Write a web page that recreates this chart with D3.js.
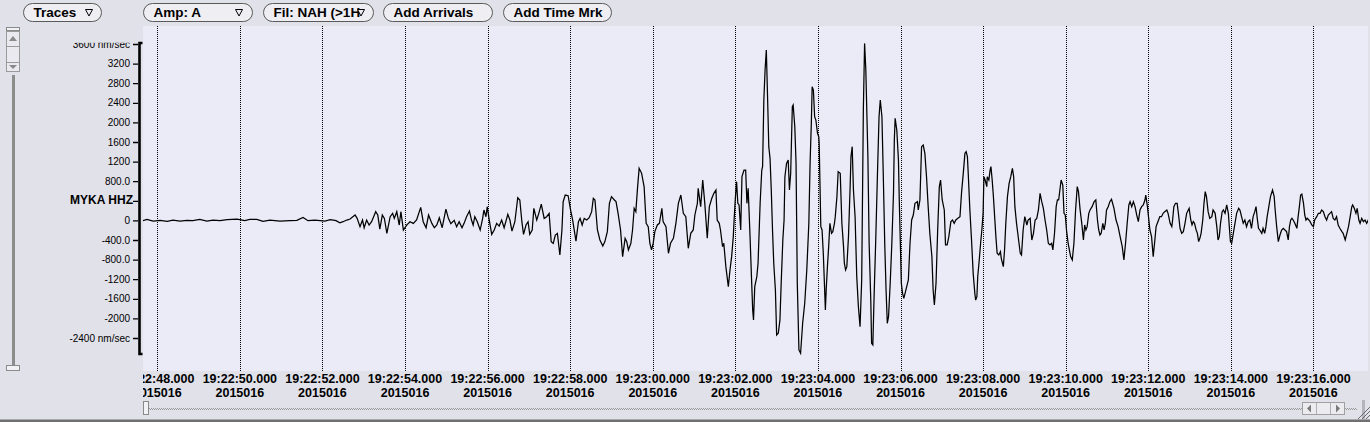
<!DOCTYPE html>
<html><head><meta charset="utf-8">
<script src="https://cdn.jsdelivr.net/npm/d3@7"></script>
<style>
html,body{margin:0;padding:0;background:#E1E1E9;overflow:hidden}
svg{display:block}
</style></head><body>
<svg id="c" width="1370" height="422"></svg>
<script>
// ---------------- DATA ----------------
const stationLabel = "MYKA HHZ";
const traceStartUTC = "2015-01-16T19:22:00Z";      // seconds below are counted from here
const viewWindowSec = [47.654, 77.322];            // visible time window
const gridSec = [48, 50, 52, 54, 56, 58, 60, 62, 64, 66, 68, 70, 72, 74, 76];
const ampDomain = [-2727, 3620];                   // nm/sec shown by the amplitude axis
const ampTicks = [3600, 3200, 2800, 2400, 2000, 1600, 1200, 800, 400, 0, -400, -800, -1200, -1600, -2000, -2400];
const ampTickLabels = ["3600 nm/sec", "3200", "2800", "2400", "2000", "1600", "1200", "800.0", "MYKA HHZ",
  "0", "-400.0", "-800.0", "-1200", "-1600", "-2000", "-2400 nm/sec"];
const toolbarLabels = ["Traces", "Amp: A", "Fil: NAH (>1H", "Add Arrivals", "Add Time Mrk"];
const toolbarHasMenu = [true, true, true, false, false];

// trace: time (s after 19:22:00) and amplitude (nm/sec)
const traceSec = [
47.65,47.75,47.90,48.07,48.24,48.38,48.55,48.72,48.86,49.03,49.20,49.35,49.52,49.69,49.81,49.93,50.12,50.24,50.41,50.56,50.73,50.97,51.21,51.38,51.53,51.65,51.82,52.06,52.19,52.33,
52.42,52.50,52.59,52.67,52.79,52.84,52.91,52.97,53.01,53.07,53.13,53.19,53.29,53.34,53.39,53.45,53.50,53.56,53.64,53.70,53.74,53.80,53.86,53.90,53.96,54.04,54.12,54.20,54.28,54.38,54.44,54.51,54.57,54.65,54.71,54.77,54.83,54.90,54.99,55.05,55.11,55.19,55.25,55.31,55.38,55.43,55.49,55.56,55.61,55.65,55.69,55.75,55.82,55.88,55.91,55.96,55.99,56.04,56.10,56.16,56.22,56.28,56.34,56.40,56.49,56.54,56.59,56.66,56.73,56.78,56.83,56.87,56.93,56.98,57.02,57.08,57.12,57.19,57.24,57.30,57.37,57.43,57.49,57.54,57.59,57.64,57.69,57.75,57.80,57.83,57.88,57.95,58.01,58.06,58.14,58.20,58.24,58.29,58.34,58.40,58.46,
58.52,58.56,58.60,58.66,58.72,58.79,58.84,58.90,58.95,59.00,59.07,59.11,59.16,59.22,59.27,59.33,59.37,59.41,59.47,59.51,59.55,59.59,59.63,59.67,59.73,59.79,59.84,59.89,59.93,59.97,60.01,60.05,60.11,60.16,60.22,60.25,60.32,60.38,60.43,60.50,60.56,60.62,60.68,60.74,60.80,60.86,60.92,60.98,61.02,61.08,61.10,61.16,61.21,
61.26,61.32,61.37,61.43,61.48,61.53,61.56,61.61,61.64,61.69,61.72,61.77,61.83,61.87,61.91,61.95,61.97,62.00,62.03,62.06,62.09,62.13,62.16,62.21,62.25,62.28,62.31,62.35,62.39,62.42,62.44,62.47,62.52,62.55,62.60,62.64,62.66,62.69,62.72,62.75,62.78,62.81,62.84,62.87,62.90,62.93,62.97,63.00,63.04,63.08,63.11,63.15,63.18,63.20,63.24,63.28,63.31,63.34,63.38,63.40,63.44,63.47,63.50,63.54,63.58,63.63,63.68,63.73,63.78,63.81,63.84,63.86,63.89,63.92,63.95,63.99,64.02,64.03,64.07,64.10,64.13,64.16,64.18,64.20,64.23,64.26,64.29,64.33,64.36,64.40,64.42,64.46,64.49,64.54,64.58,64.62,64.64,64.67,64.70,64.74,64.78,64.80,64.83,64.86,64.90,64.94,64.98,65.02,65.06,65.10,65.13,65.16,65.21,65.24,65.28,65.30,65.33,65.36,65.40,65.44,65.48,65.51,65.55,65.58,65.62,65.65,65.68,65.71,65.75,65.79,65.83,65.85,65.87,65.91,65.95,65.97,66.02,66.05,66.08,
66.19,66.23,66.27,66.31,66.35,66.41,66.43,66.47,66.51,66.55,66.59,66.63,66.67,66.71,66.76,66.79,66.82,66.86,66.90,66.94,66.97,67.01,67.06,67.09,67.13,67.17,67.22,67.26,67.30,67.34,67.39,
67.44,67.48,67.52,67.56,67.59,67.62,67.64,67.68,67.72,67.76,67.80,67.82,67.85,67.87,67.90,67.94,67.97,68.00,68.02,68.05,68.09,68.10,68.14,68.17,68.19,68.22,68.25,68.28,68.31,68.34,68.38,68.42,68.44,68.47,68.49,68.52,68.55,68.59,68.63,68.67,68.71,68.74,68.77,68.81,68.86,68.90,68.93,68.97,69.01,69.06,69.09,69.14,69.16,69.18,69.22,69.26,69.30,69.34,69.38,69.42,69.46,69.50,69.54,69.58,69.62,69.66,69.69,69.73,69.77,69.80,69.83,69.86,69.89,69.93,69.96,69.99,70.02,70.06,70.12,70.16,70.20,70.24,70.28,70.31,70.35,70.39,70.43,70.46,70.49,70.52,70.56,70.59,70.64,70.69,70.73,70.77,70.80,70.83,70.86,70.90,70.93,70.96,70.99,71.03,71.07,71.11,71.17,71.22,71.27,71.31,71.37,71.41,71.45,71.49,71.53,71.56,71.60,71.64,71.68,71.72,71.76,71.80,71.84,71.88,71.92,71.94,71.98,72.01,72.04,72.08,72.12,72.16,72.19,72.22,72.25,72.28,
72.32,72.36,72.40,72.45,72.48,72.53,72.57,72.59,72.62,72.66,72.70,72.73,72.77,72.81,72.85,72.89,72.93,72.97,72.99,73.03,73.06,73.09,73.12,73.16,73.19,73.22,73.25,73.28,73.32,73.35,73.38,73.41,73.45,73.49,73.54,73.57,73.62,73.66,73.69,73.72,73.75,73.79,73.82,73.86,73.90,73.94,73.96,73.99,74.02,74.06,74.10,74.14,74.19,74.22,74.26,74.30,74.34,74.38,74.42,74.46,74.50,74.54,74.58,74.61,74.64,74.67,74.70,74.75,74.78,74.82,74.85,74.88,74.92,74.96,75.01,75.05,75.07,75.11,75.15,75.19,75.23,75.27,75.31,75.35,75.39,75.42,75.45,75.48,75.51,75.55,75.60,75.63,75.66,75.69,75.72,75.76,75.79,75.82,75.85,75.89,75.92,75.96,76.00,76.03,76.08,76.12,76.16,76.20,76.24,76.28,76.32,76.36,76.40,76.44,76.48,76.52,76.56,76.60,76.64,76.69,76.72,76.77,76.81,76.85,76.89,76.93,76.95,76.99,77.03,77.06,77.10,77.13,77.17,77.21,77.25,77.29,77.33,77.37
];
const traceNmPerSec = [
-7,20,-15,0,-20,7,-14,0,-7,20,-15,7,-7,14,20,27,-7,20,20,-20,7,-14,-7,0,60,-7,7,-14,14,-7,
-48,-27,7,27,109,41,-129,7,-150,7,-95,-27,177,109,-177,109,41,-265,75,143,41,177,-95,177,-197,-95,-27,-61,7,265,-27,-150,109,-61,-150,-95,54,-150,231,41,-68,0,-129,-27,-150,-61,75,190,7,-95,75,-27,-197,41,211,75,279,7,-286,-197,-61,-116,7,-150,122,7,-218,-27,462,415,-27,-286,-95,-27,-286,-197,245,7,143,333,41,75,143,-435,-469,-299,-265,-707,-197,381,517,503,211,7,-422,-27,41,-95,41,7,54,
178,450,416,-196,-400,-522,-434,-230,348,484,416,382,144,-196,-740,-366,-434,-604,-468,-196,246,178,654,1062,960,688,-60,-128,-468,-604,-468,-230,-94,-60,246,-26,-128,-672,-468,-366,-60,348,518,144,76,-570,-264,-196,110,348,654,280,824,
348,-366,280,450,552,620,8,-60,-196,-536,-468,-944,-1352,-1012,-740,-332,8,450,790,348,314,-196,892,1028,1028,348,654,-196,-1148,-1828,-2032,-1352,-1148,-876,348,1028,1096,2456,3068,3476,2524,1504,1266,620,-196,-876,-1420,-2338,-2304,-2032,-1284,-400,8,892,1164,1232,620,960,2320,2354,1912,1164,-1284,-2644,-2712,-2100,-1692,-1012,-60,1164,1980,2728,2660,2116,2048,1776,1708,1572,-128,-196,-672,-1352,-1828,-1420,-944,-536,-60,-264,-230,-60,76,484,994,960,-60,-536,-876,-1012,-944,-332,688,1300,1504,620,76,-1148,-1760,-2168,-1216,2252,3612,3068,1300,-468,-1624,-2508,-2542,-1556,-400,892,2116,2456,2116,1028,-536,-1420,-2100,-1964,-1284,-468,552,1640,2082,1844,1232,416,-1284,-1488,-1590,
-1216,-468,8,110,348,382,212,416,1504,1538,1368,892,280,-264,-740,-1420,-1726,-1284,-196,688,824,416,212,-502,-502,-332,-26,8,-60,8,42,
76,586,960,1368,1402,1300,960,212,-400,-1082,-1490,-1626,-1558,-1150,-876,-468,-196,144,892,824,688,892,824,1028,1096,824,484,76,-332,-672,-706,-638,-774,-876,-944,-604,-60,484,756,892,1062,892,280,-60,-400,-672,-706,-196,76,-94,8,42,-196,-400,-264,8,42,212,552,382,246,8,-196,-468,-502,-468,-604,-264,280,416,416,620,824,722,144,110,-196,-468,-740,-808,-468,212,688,586,212,-60,-400,-94,-196,-128,144,212,280,382,416,8,-196,-298,-264,-60,-196,-60,212,280,382,430,246,8,-128,-298,-536,-808,-468,-60,314,382,280,382,280,110,-26,212,280,314,416,518,280,42,-196,-332,-740,-400,-128,-60,8,76,
76,144,178,212,144,-60,-128,8,280,348,348,144,-162,-264,-230,-60,144,212,246,8,-94,-26,-60,-196,-264,-434,-366,-264,8,348,586,484,178,42,76,212,144,-128,-400,-332,-60,178,212,144,314,144,-94,-434,-468,-264,-60,144,246,212,76,-60,8,-128,-26,8,-162,76,178,280,42,-162,-196,-264,-162,-264,-128,76,280,484,620,484,246,-128,-434,-298,-196,-162,-196,-230,-400,-128,8,42,8,-60,-162,76,280,518,538,348,110,8,42,8,-26,-94,-128,8,76,144,144,212,178,76,8,110,144,178,42,8,76,-94,-162,-230,-264,-400,-264,-128,76,280,314,246,144,246,8,-60,42,-26,8,-60,8,8
];

// ---------------- LAYOUT ----------------
const W = 1370, H = 422;
const plot = {left: 143, right: 1368, top: 26, bottom: 371};
const svg = d3.select("#c");
const PANEL = "#E1E1E9", PLOTBG = "#EBEBF7";

svg.append("rect").attr("width", W).attr("height", H).attr("fill", PANEL);

const t0 = new Date(traceStartUTC).getTime();
const x = d3.scaleLinear().domain(viewWindowSec).range([plot.left, plot.right]);
const y = d3.scaleLinear().domain(ampDomain).range([354, 43]);

const defs = svg.append("defs");
defs.append("clipPath").attr("id", "plotClip").append("rect")
  .attr("x", plot.left).attr("y", plot.top).attr("width", plot.right - plot.left).attr("height", plot.bottom - plot.top);
defs.append("clipPath").attr("id", "timeClip").append("rect")
  .attr("x", plot.left).attr("y", plot.bottom).attr("width", 1357 - plot.left).attr("height", 30);
defs.append("clipPath").attr("id", "ampClip").append("rect")
  .attr("x", 0).attr("y", 42.7).attr("width", 142).attr("height", 330);

// plot background
svg.append("rect").attr("x", plot.left).attr("y", plot.top)
  .attr("width", plot.right - plot.left).attr("height", plot.bottom - plot.top).attr("fill", PLOTBG);

// gridlines (dotted)
const gp = svg.append("g").attr("clip-path", "url(#plotClip)");
gp.selectAll("line.grid").data(gridSec).join("line")
  .attr("x1", d => Math.round(x(d)) + 0.5).attr("x2", d => Math.round(x(d)) + 0.5)
  .attr("y1", plot.top).attr("y2", plot.bottom)
  .attr("stroke", "#000").attr("stroke-width", 1).attr("stroke-dasharray", "1,1");

// trace
const pts = traceSec.map((t, i) => ({t, v: traceNmPerSec[i]}));
gp.append("path").datum(pts)
  .attr("d", d3.line().x(d => x(d.t)).y(d => y(d.v)))
  .attr("fill", "none").attr("stroke", "#000").attr("stroke-width", 1.25)
  .attr("stroke-linejoin", "miter");

// amplitude axis (clip group is untransformed; axis lives in an inner translated group)
const axClip = svg.append("g").attr("clip-path", "url(#ampClip)");
const ax = axClip.append("g").attr("transform", "translate(138,0)");
ax.call(d3.axisLeft(y).tickValues(ampTicks).tickFormat((d, i) => ampTickLabels[i]).tickSize(5).tickPadding(3));
ax.select(".domain").remove();
ax.selectAll(".tick line").attr("stroke", "#000").attr("stroke-width", 1.3);
ax.selectAll(".tick text").attr("fill", "#000")
  .style("font-family", "'Liberation Sans', Arial, sans-serif").style("font-size", "10px");
ax.selectAll(".tick text").filter((d, i) => ampTickLabels[i] === stationLabel)
  .attr("x", -5).attr("dy", "0.2em")
  .style("font-weight", "bold").style("font-size", "12px");
svg.append("path")
  .attr("d", `M142.5,${y(ampDomain[1])}H139.5V${y(ampDomain[0])}H142.5`)
  .attr("fill", "none").attr("stroke", "#000").attr("stroke-width", 2.6);

// time labels
const fmtTime = d3.utcFormat("%H:%M:%S.%L");
const fmtDate = d3.utcFormat("%Y%j");
const tl = svg.append("g").attr("clip-path", "url(#timeClip)")
  .style("font-family", "'Liberation Sans', Arial, sans-serif").style("font-weight", "bold")
  .style("font-size", "12.5px").attr("text-anchor", "middle").attr("fill", "#000");
tl.selectAll("text.t").data(gridSec).join("text").attr("class", "t")
  .attr("x", d => x(d)).attr("y", 382.5).text(d => fmtTime(new Date(t0 + d * 1000)));
tl.selectAll("text.d").data(gridSec).join("text").attr("class", "d")
  .attr("x", d => x(d)).attr("y", 397).text(d => fmtDate(new Date(t0 + d * 1000)));

// toolbar
const btnLeft = [23, 143, 263, 383, 503], btnW = [78, 109, 110, 109, 108], menuX = [89, 239, 361];
const tb = svg.append("g");
toolbarLabels.forEach((lab, i) => {
  const g = tb.append("g");
  g.append("rect").attr("x", btnLeft[i] + 0.5).attr("y", 3.5).attr("width", btnW[i]).attr("height", 18)
    .attr("rx", 9).attr("fill", "#EEEEF3").attr("stroke", "#5a5a5a").attr("stroke-width", 1);
  g.append("text").attr("x", btnLeft[i] + 10.5).attr("y", 17)
    .style("font-family", "'Liberation Sans', Arial, sans-serif").style("font-weight", "bold")
    .style("font-size", "13.5px").attr("fill", "#000").text(lab);
  if (toolbarHasMenu[i]) {
    const mx = menuX[i];
    g.append("path").attr("d", `M${mx - 3.5},9.5H${mx + 3.5}L${mx},16Z`)
      .attr("fill", "#EEEEF3").attr("stroke", "#000").attr("stroke-width", 1);
  }
});

// left vertical scrollbar
const ls = svg.append("g");
ls.append("rect").attr("x", 6.5).attr("y", 27.5).attr("width", 13).attr("height", 3).attr("fill", "#F2F2F6").attr("stroke", "#8a8a8a");
ls.append("rect").attr("x", 6.5).attr("y", 31.5).attr("width", 13).attr("height", 15).attr("fill", "#E9E9EF").attr("stroke", "#9a9a9a");
ls.append("path").attr("d", "M9,41H17L13,36Z").attr("fill", "#8a8a8a");
ls.append("rect").attr("x", 6.5).attr("y", 46.5).attr("width", 13).attr("height", 16).attr("fill", "#E9E9EF").attr("stroke", "#9a9a9a");
ls.append("rect").attr("x", 6.5).attr("y", 62.5).attr("width", 13).attr("height", 9).attr("fill", "#E9E9EF").attr("stroke", "#9a9a9a");
ls.append("path").attr("d", "M9,65H17L13,69Z").attr("fill", "#8a8a8a");
ls.append("rect").attr("x", 12).attr("y", 75).attr("width", 3).attr("height", 291).attr("fill", "#8C8C8C");
ls.append("rect").attr("x", 6.5).attr("y", 365.5).attr("width", 13).attr("height", 5).attr("fill", "#F2F2F6").attr("stroke", "#8a8a8a");

// bottom horizontal scrollbar
const bs = svg.append("g");
bs.append("line").attr("x1", 149).attr("x2", 1357).attr("y1", 408.5).attr("y2", 408.5)
  .attr("stroke", "#9a9a9a").attr("stroke-dasharray", "1,1");
bs.append("line").attr("x1", 150).attr("x2", 1357).attr("y1", 409.5).attr("y2", 409.5)
  .attr("stroke", "#9a9a9a").attr("stroke-dasharray", "1,1");
bs.append("rect").attr("x", 143.5).attr("y", 401.5).attr("width", 5).attr("height", 13).attr("fill", "#F2F2F6").attr("stroke", "#8a8a8a");
bs.append("rect").attr("x", 1302.5).attr("y", 402.5).attr("width", 42).attr("height", 12).attr("fill", "#EBEBF0").attr("stroke", "#a0a0a0");
bs.append("line").attr("x1", 1316.5).attr("x2", 1316.5).attr("y1", 403).attr("y2", 414).attr("stroke", "#b0b0b0");
bs.append("line").attr("x1", 1330.5).attr("x2", 1330.5).attr("y1", 403).attr("y2", 414).attr("stroke", "#b0b0b0");
bs.append("path").attr("d", "M1311,404.5V412.5L1307,408.5Z").attr("fill", "#7a7a7a");
bs.append("path").attr("d", "M1336,404.5V412.5L1340,408.5Z").attr("fill", "#7a7a7a");
bs.append("rect").attr("x", 1362).attr("y", 400).attr("width", 3).attr("height", 19).attr("fill", "#B4B4BC");
[0, 4, 8].forEach(o => bs.append("line").attr("x1", 1358 + o).attr("y1", 419).attr("x2", 1370).attr("y2", 407 + o)
  .attr("stroke", "#6a6a6a").attr("stroke-width", 1));

// bottom border
svg.append("rect").attr("x", 0).attr("y", 419.5).attr("width", W).attr("height", 2.5).attr("fill", "#707070");
</script>
</body></html>
